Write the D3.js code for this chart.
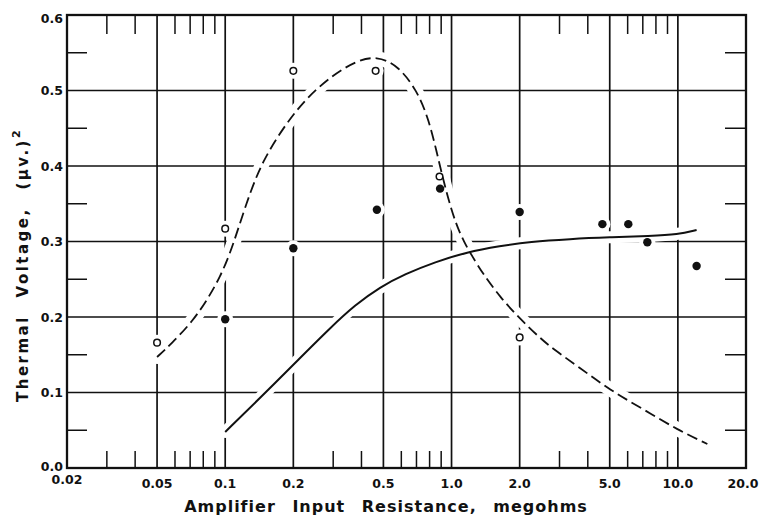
<!DOCTYPE html>
<html>
<head>
<meta charset="utf-8">
<script src="https://cdn.jsdelivr.net/npm/d3@7"></script>
<style>
    body { margin: 0; background: #fff; }
    svg text { font-family: "DejaVu Sans", sans-serif; font-weight: bold; fill: #111; }
</style>
</head>
<body>
<div id="chart"></div>
<script>
// axis ticks
var xTicks = [0.02, 0.05, 0.1, 0.2, 0.5, 1.0, 2.0, 5.0, 10.0, 20.0];
var xTickLabels = ["0.02", "0.05", "0.1", "0.2", "0.5", "1.0", "2.0", "5.0", "10.0", "20.0"];
var xMinor = [0.03, 0.04, 0.06, 0.07, 0.08, 0.09, 0.3, 0.4, 0.6, 0.7, 0.8, 0.9, 3, 4, 6, 7, 8, 9];
var yTicks = [0.0, 0.1, 0.2, 0.3, 0.4, 0.5, 0.6];
var yTickLabels = ["0.0", "0.1", "0.2", "0.3", "0.4", "0.5", "0.6"];
var yMinor = [0.05, 0.15, 0.25, 0.35, 0.45, 0.55];

// open circles (dashed curve)
var openR = [0.05, 0.1, 0.2, 0.462, 0.885, 2.0];
var openV = [0.166, 0.317, 0.526, 0.526, 0.386, 0.173];

// filled circles (solid curve)
var filledR = [0.1, 0.2, 0.468, 0.89, 2.0, 4.64, 6.04, 7.33, 12.1];
var filledV = [0.197, 0.291, 0.342, 0.37, 0.339, 0.323, 0.323, 0.299, 0.2675];

// dashed curve
var dashR = [0.05, 0.058, 0.0717, 0.0842, 0.0949, 0.105, 0.1143, 0.1298, 0.1474, 0.1806, 0.2264, 0.2956,
    0.3778, 0.467, 0.58, 0.702, 0.7956, 0.872, 0.9526, 1.045, 1.136, 1.232, 1.378, 1.638, 2.008,
    2.46, 2.81, 3.7, 5.0, 7.02, 10.0, 13.5];
var dashV = [0.147, 0.165, 0.194, 0.225, 0.253, 0.284, 0.3175, 0.368, 0.408, 0.451, 0.489, 0.5195,
    0.539, 0.546, 0.533, 0.5007, 0.461, 0.4106, 0.3629, 0.3232, 0.2993, 0.2808, 0.257, 0.2265, 0.1974,
    0.1722, 0.1576, 0.1325, 0.1033, 0.0781, 0.0503, 0.0318];

// solid curve
var solidR = [0.1, 0.1425, 0.214, 0.2906, 0.3746, 0.4832, 0.6232, 0.8456, 1.171, 1.638, 2.22, 3.34, 5.0, 7.54, 10.0, 12.1];
var solidV = [0.0477, 0.0927, 0.1457, 0.1854, 0.2159, 0.2397, 0.257, 0.2728, 0.2861, 0.294, 0.2997, 0.3033, 0.3056, 0.3073, 0.3093, 0.3152];

var margin = { top: 15, right: 13, bottom: 51, left: 67 };
var fullW = 759, fullH = 519;
var width = fullW - margin.left - margin.right;
var height = fullH - margin.top - margin.bottom;

var svg = d3.select("#chart").append("svg")
    .attr("width", fullW)
    .attr("height", fullH)
    .append("g")
    .attr("transform", "translate(" + margin.left + "," + margin.top + ")");

var x = d3.scaleLog().domain([0.02, 20]).range([0, width]);
var y = d3.scaleLinear().domain([0, 0.6]).range([height, 0]);

var ink = "#111";

// grid lines
svg.selectAll(".vgrid")
    .data(xTicks.slice(1, -1))
    .enter().append("line")
    .attr("x1", function (d) { return x(d); })
    .attr("x2", function (d) { return x(d); })
    .attr("y1", 0).attr("y2", height)
    .attr("stroke", ink).attr("stroke-width", 1.7);

svg.selectAll(".hgrid")
    .data(yTicks.slice(1, -1))
    .enter().append("line")
    .attr("x1", 0).attr("x2", width)
    .attr("y1", function (d) { return y(d); })
    .attr("y2", function (d) { return y(d); })
    .attr("stroke", ink).attr("stroke-width", 1.7);

// minor ticks, top and bottom
svg.selectAll(".minTop")
    .data(xMinor)
    .enter().append("line")
    .attr("x1", function (d) { return x(d); })
    .attr("x2", function (d) { return x(d); })
    .attr("y1", 0).attr("y2", 19)
    .attr("stroke", ink).attr("stroke-width", 1.5);

svg.selectAll(".minBot")
    .data(xMinor)
    .enter().append("line")
    .attr("x1", function (d) { return x(d); })
    .attr("x2", function (d) { return x(d); })
    .attr("y1", height).attr("y2", height - 17)
    .attr("stroke", ink).attr("stroke-width", 1.5);

// minor ticks, left and right
svg.selectAll(".minLeft")
    .data(yMinor)
    .enter().append("line")
    .attr("x1", 0).attr("x2", 20)
    .attr("y1", function (d) { return y(d); })
    .attr("y2", function (d) { return y(d); })
    .attr("stroke", ink).attr("stroke-width", 1.5);

svg.selectAll(".minRight")
    .data(yMinor)
    .enter().append("line")
    .attr("x1", width - 21).attr("x2", width)
    .attr("y1", function (d) { return y(d); })
    .attr("y2", function (d) { return y(d); })
    .attr("stroke", ink).attr("stroke-width", 1.5);

// smooth b-spline through the read-off points
var line = d3.line()
    .x(function (d) { return x(d[0]); })
    .y(function (d) { return y(d[1]); })
    .curve(d3.curveBasis);

var dashData = d3.zip(dashR, dashV);
var solidData = d3.zip(solidR, solidV);
var openData = d3.zip(openR, openV);
var filledData = d3.zip(filledR, filledV);

// white halos break the grid where the marks cross it
svg.append("path").datum(dashData)
    .attr("d", line).attr("fill", "none")
    .attr("stroke", "#fff").attr("stroke-width", 14).attr("stroke-linecap", "round");
svg.append("path").datum(solidData)
    .attr("d", line).attr("fill", "none")
    .attr("stroke", "#fff").attr("stroke-width", 12).attr("stroke-linecap", "round");
svg.selectAll(".halo")
    .data(openData.concat(filledData))
    .enter().append("circle")
    .attr("cx", function (d) { return x(d[0]); })
    .attr("cy", function (d) { return y(d[1]); })
    .attr("r", 8)
    .attr("fill", "#fff");

// frame
svg.append("rect")
    .attr("x", 0).attr("y", 0)
    .attr("width", width).attr("height", height)
    .attr("fill", "none").attr("stroke", ink).attr("stroke-width", 2.3);

// curves
svg.append("path").datum(dashData)
    .attr("d", line).attr("fill", "none")
    .attr("stroke", ink).attr("stroke-width", 1.8)
    .attr("stroke-dasharray", "11,5");
svg.append("path").datum(solidData)
    .attr("d", line).attr("fill", "none")
    .attr("stroke", ink).attr("stroke-width", 2);

// points
svg.selectAll(".open")
    .data(openData)
    .enter().append("circle")
    .attr("cx", function (d) { return x(d[0]); })
    .attr("cy", function (d) { return y(d[1]); })
    .attr("r", 3.3)
    .attr("fill", "#fff").attr("stroke", ink).attr("stroke-width", 1.5);

svg.selectAll(".filled")
    .data(filledData)
    .enter().append("circle")
    .attr("cx", function (d) { return x(d[0]); })
    .attr("cy", function (d) { return y(d[1]); })
    .attr("r", 4.2)
    .attr("fill", ink);

// tick labels
svg.selectAll(".xLabel")
    .data(xTicks)
    .enter().append("text")
    .text(function (d, i) { return xTickLabels[i]; })
    .attr("x", function (d, i) { return x(d) + (i === xTicks.length - 1 ? -3 : 0); })
    .attr("y", function (d, i) { return i === 0 ? height + 15.5 : height + 19.5; })
    .attr("text-anchor", "middle")
    .style("font-size", "12.5px");

svg.selectAll(".yLabel")
    .data(yTicks)
    .enter().append("text")
    .text(function (d, i) { return yTickLabels[i]; })
    .attr("x", -4)
    .attr("y", function (d) { return y(d) + (d === 0.6 ? 8 : d === 0 ? 3 : 4.5); })
    .attr("text-anchor", "end")
    .style("font-size", "12.5px");

// axis titles
svg.append("text")
    .text("Amplifier Input Resistance, megohms")
    .attr("x", 386 - margin.left)
    .attr("y", 512 - margin.top)
    .attr("text-anchor", "middle")
    .style("font-size", "16px")
    .style("letter-spacing", "1px")
    .style("word-spacing", "10px");

var yTitle = svg.append("text")
    .attr("transform", "translate(" + (28 - margin.left) + "," + (402 - margin.top) + ") rotate(-90)")
    .attr("text-anchor", "start")
    .style("font-size", "15px")
    .style("letter-spacing", "2.5px")
    .style("word-spacing", "10px");
yTitle.append("tspan").text("Thermal Voltage, (\u03bcv.)");
yTitle.append("tspan").text("2").attr("dy", -8).style("font-size", "11px");
</script>
</body>
</html>
